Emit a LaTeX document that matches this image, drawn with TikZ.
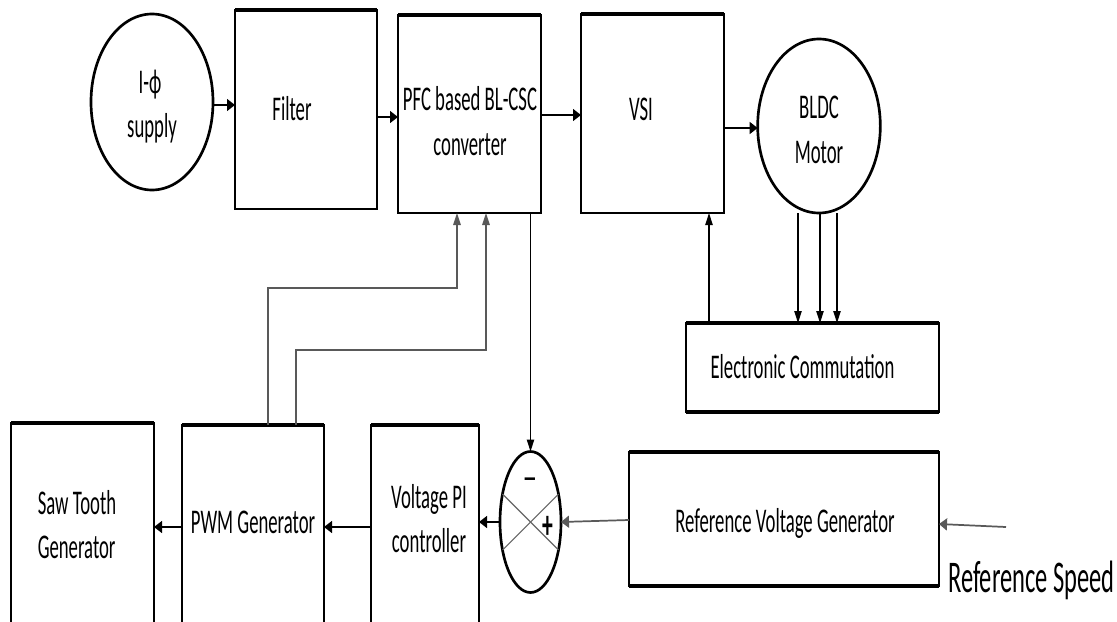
\documentclass[tikz,border=0pt]{standalone}
\usepackage{fontspec}
\setmainfont{Carlito}[FakeStretch=0.54]
\newfontfamily\signfont{Carlito}
\usetikzlibrary{arrows.meta,shapes.geometric,fit,calc}
\begin{document}
\begin{tikzpicture}[x=0.75pt,y=-0.75pt,
  box/.style={draw, line width=1.6pt, inner sep=0pt, outer sep=0pt},
  oval/.style={draw, ellipse, line width=2pt, inner sep=0pt, outer sep=0pt},
  txt/.style={anchor=base, inner sep=0pt, font=\fontsize{26}{32}\selectfont},
  topedge/.style={line width=3pt},
  conn/.style={line width=1pt},
  harr/.style={conn, -{Triangle[length=6pt,width=9pt]}},
  varr/.style={conn, -{Triangle[length=9pt,width=5.5pt]}},
  greyline/.style={line width=1.3pt, draw=black!65},
  xline/.style={line width=0.8pt, draw=black!60}]
\useasboundingbox (0,0) rectangle (1117,621);
\clip (0,0) rectangle (1117,621);
% top row
\node[oval, minimum width=91.5pt, minimum height=132pt] (supply) at (152,102) {};
\node[txt] (supplyt1) at (150,93) {I-ϕ};
\node[txt] (supplyt2) at (152,137) {supply};
\node[box, fit={(235,10) (377,209)}] (filter) {};
\node[txt] (filtert) at (292,120) {Filter};
\node[box, fit={(398,15) (541,213)}] (pfc) {};
\node[txt] (pfct1) at (470,110) {PFC based BL-CSC};
\node[txt] (pfct2) at (470,155) {converter};
\node[box, fit={(581,14) (724,213)}] (vsi) {};
\node[txt] (vsit) at (641,120) {VSI};
\node[oval, minimum width=92pt, minimum height=130.5pt] (motor) at (819,126) {};
\node[txt] (motort1) at (819,118) {BLDC};
\node[txt] (motort2) at (819,163) {Motor};
% middle
\node[box, fit={(686,323) (939,412)}] (ec) {};
\node[txt] (ect) at (802.5,378) {Electronic Commutation};
% bottom row
\node[box, fit={(11,423) (154,640)}] (saw) {};
\node[txt, anchor=base west] (sawt1) at (37.5,514) {Saw Tooth};
\node[txt, anchor=base west] (sawt2) at (37.5,558) {Generator};
\node[box, fit={(182,425) (324,640)}] (pwm) {};
\node[txt] (pwmt) at (253,533) {PWM Generator};
\node[box, fit={(371,425) (479,640)}] (pi) {};
\node[txt] (pit1) at (429,508) {Voltage PI};
\node[txt] (pit2) at (429,552) {controller};
\node[oval, minimum width=45.75pt, minimum height=105.75pt] (sum) at (530.5,522) {};
\node[box, fit={(629,452) (939,586)}] (rvg) {};
\node[txt] (rvgt) at (785,532) {Reference Voltage Generator};
\node[txt, font=\fontsize{34}{40}\selectfont] (spdt) at (1031.5,592) {Reference Speed};
% thick edges
\foreach \n in {filter,pfc,vsi,saw,pwm,pi,ec,rvg}
  \draw[topedge] (\n.north west) -- (\n.north east);
\draw[topedge] (ec.south west) -- (ec.south east);
\draw[topedge] (rvg.south west) -- (rvg.south east);
% summing junction cross and signs
\draw[xline] (sum.45) -- (sum.225);
\draw[xline] (sum.135) -- (sum.315);
\node[txt, font=\signfont\fontsize{22}{22}\selectfont\bfseries] (minus) at (530,487) {–};
\node[inner sep=0pt, font=\fontsize{30}{30}\selectfont\bfseries] (plus) at (548,527) {+};
% forward path
\draw[harr] (supply.east |- 0,105) -- (filter.west |- 0,105);
\draw[harr] (filter.east |- 0,117) -- (pfc.west |- 0,117);
\draw[harr] (pfc.east |- 0,115) -- (vsi.west |- 0,115);
\draw[harr] (vsi.east |- 0,128) -- (motor.west |- 0,128);
% motor to commutation
\draw[varr] ([xshift=-15.75pt]motor.south) -- ([xshift=-15.75pt]motor.south |- ec.north);
\draw[varr] ([xshift=0.75pt]motor.south) -- ([xshift=0.75pt]motor.south |- ec.north);
\draw[varr] ([xshift=13.5pt]motor.south) -- ([xshift=13.5pt]motor.south |- ec.north);
\draw[varr] (ec.north -| 709,0) -- (vsi.south -| 709,0);
% feedback
\draw[varr] (pfc.south -| sum.north) -- (sum.north);
\draw[harr, greyline] (rvg.west |- 0,520) -- (sum.east);
\draw[harr] (sum.west) -- (sum.west -| pi.east);
\draw[harr] (pi.west |- 0,527) -- (pwm.east |- 0,527);
\draw[harr] (pwm.west |- 0,527) -- (saw.east |- 0,527);
\draw[greyline, -{Triangle[length=9pt,width=5.5pt]}] (pwm.north -| 268,0) |- (457,288) -- (pfc.south -| 457,0);
\draw[greyline, -{Triangle[length=9pt,width=5.5pt]}] (pwm.north -| 296,0) |- (486,350) -- (pfc.south -| 486,0);
\coordinate (spd) at (1006,527);
\draw[harr, greyline] (spd) -- (rvg.east |- 0,524);
\end{tikzpicture}
\end{document}
